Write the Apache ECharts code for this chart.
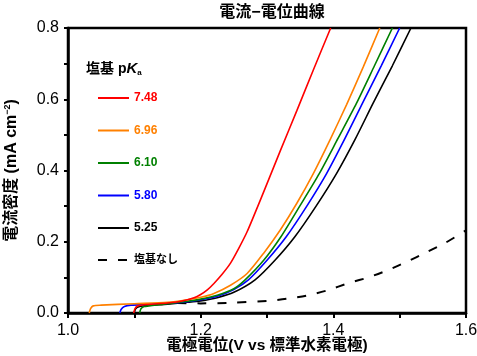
<!DOCTYPE html>
<html><head><meta charset="utf-8">
<script src="https://cdn.jsdelivr.net/npm/echarts@6/dist/echarts.min.js"></script>
<style>html,body{margin:0;padding:0;background:#fff}#c{width:477px;height:356px}</style>
</head><body><div id="c"></div>
<script>
const seriesNames = ['7.48', '6.96', '6.10', '5.80', '5.25', '塩基なし'];
const seriesColors = ['#ff0000', '#ff8000', '#008000', '#0000ff', '#000000', '#000000'];
const xTicks = [1.0, 1.2, 1.4, 1.6];
const yTicks = [0.0, 0.2, 0.4, 0.6, 0.8];

const red = [[1.099,0],[1.101,0.012],[1.105,0.02],[1.12,0.024],[1.15,0.028],[1.17,0.033],[1.19,0.043],[1.2,0.052],[1.21,0.065],[1.22,0.083],[1.232,0.108],[1.245,0.14],[1.257,0.18],[1.27,0.228],[1.295,0.34],[1.32,0.455],[1.345,0.568],[1.37,0.683],[1.396,0.80]];
const orange = [[1.032,0],[1.034,0.012],[1.038,0.02],[1.05,0.022],[1.1,0.026],[1.15,0.03],[1.18,0.037],[1.2,0.044],[1.22,0.055],[1.245,0.078],[1.27,0.111],[1.295,0.168],[1.32,0.233],[1.345,0.308],[1.37,0.392],[1.395,0.486],[1.42,0.585],[1.445,0.69],[1.47,0.80]];
const green = [[1.108,0],[1.11,0.012],[1.115,0.018],[1.13,0.022],[1.15,0.026],[1.18,0.033],[1.2,0.039],[1.225,0.05],[1.25,0.068],[1.267,0.093],[1.295,0.148],[1.321,0.214],[1.35,0.302],[1.379,0.392],[1.407,0.49],[1.435,0.589],[1.462,0.694],[1.489,0.80]];
const blue = [[1.078,0],[1.08,0.01],[1.085,0.018],[1.095,0.022],[1.12,0.024],[1.15,0.027],[1.18,0.032],[1.2,0.037],[1.225,0.047],[1.25,0.066],[1.272,0.093],[1.3,0.148],[1.329,0.214],[1.36,0.30],[1.39,0.392],[1.417,0.488],[1.444,0.589],[1.472,0.693],[1.50,0.80]];
const black = [[1.10,0],[1.102,0.012],[1.108,0.018],[1.12,0.021],[1.15,0.025],[1.18,0.03],[1.2,0.034],[1.225,0.043],[1.25,0.058],[1.282,0.093],[1.312,0.148],[1.342,0.214],[1.374,0.30],[1.405,0.392],[1.433,0.488],[1.46,0.589],[1.489,0.694],[1.517,0.80]];
const noBase = [[1.165,0.028],[1.2,0.027],[1.25,0.029],[1.3,0.034],[1.33,0.04],[1.36,0.049],[1.39,0.063],[1.425,0.085],[1.453,0.1],[1.483,0.121],[1.511,0.144],[1.54,0.17],[1.569,0.197],[1.6,0.232]];

const allData = [red, orange, green, blue, black, noBase];

const latin = 'Liberation Sans, Arial, sans-serif';
const cjk = '"Liberation Sans", "Noto Sans CJK JP", sans-serif';

const chart = echarts.init(document.getElementById('c'));
chart.setOption({
  animation: false,
  backgroundColor: '#fff',
  title: [{
    text: '電流−電位曲線',
    left: 267, top: 0, textAlign: 'center',
    textStyle: {fontFamily: cjk, fontWeight: 'bold', fontSize: 16, color: '#000'}
  }, {
    text: '{b|塩基 p}{i|K}{s|a}',
    left: 81, top: 56,
    textStyle: {
      rich: {
        b: {fontFamily: cjk, fontWeight: 'bold', fontSize: 14, color: '#000'},
        i: {fontFamily: latin, fontWeight: 'bold', fontStyle: 'italic', fontSize: 15, color: '#000'},
        s: {fontFamily: latin, fontWeight: 'bold', fontSize: 8, color: '#000', verticalAlign: 'bottom', padding: [8,0,0,0]}
      }
    }
  }],
  legend: {
    orient: 'vertical',
    left: 97, top: 92, padding: 0,
    itemWidth: 31, itemHeight: 14, itemGap: 20.5,
    itemStyle: {opacity: 0, borderWidth: 0},
    data: seriesNames.map((n, i) => ({
      name: n,
      textStyle: {color: seriesColors[i], fontWeight: 'bold', fontSize: i === 5 ? 11 : 12, fontFamily: i === 5 ? cjk : latin}
    }))
  },
  grid: {left: 68, right: 11, top: 28, bottom: 43, show: true, borderColor: '#000', borderWidth: 2.5, outerBoundsMode: 'none', containLabel: false},
  xAxis: {
    type: 'value', min: 1.0, max: 1.6, interval: 0.2,
    name: '電極電位(V vs 標準水素電極)', nameLocation: 'middle', nameGap: 25, nameMoveOverlap: false,
    nameTextStyle: {fontFamily: cjk, fontWeight: 'bold', fontSize: 15.5, color: '#000'},
    axisLine: {lineStyle: {color: '#000', width: 2.5}},
    axisTick: {length: 5, lineStyle: {color: '#000', width: 2}},
    minorTick: {show: true, splitNumber: 2, length: 5, lineStyle: {color: '#000', width: 2}},
    splitLine: {show: false},
    axisLabel: {margin: 10, fontFamily: latin, fontSize: 16, color: '#000', formatter: v => v.toFixed(1)}
  },
  yAxis: {
    type: 'value', min: 0, max: 0.8, interval: 0.2,
    name: '{t|電流密度 (mA cm}{s|−2}{t|)}', nameLocation: 'middle', nameGap: 48, nameMoveOverlap: false,
    nameTextStyle: {
      rich: {
        t: {fontFamily: cjk, fontWeight: 'bold', fontSize: 16, color: '#000'},
        s: {fontFamily: latin, fontWeight: 'bold', fontSize: 9, color: '#000', verticalAlign: 'top', padding: [0,0,8,0]}
      }
    },
    axisLine: {lineStyle: {color: '#000', width: 2.5}},
    axisTick: {length: 4, lineStyle: {color: '#000', width: 2}},
    minorTick: {show: true, splitNumber: 2, length: 4, lineStyle: {color: '#000', width: 2}},
    splitLine: {show: false},
    axisLabel: {margin: 9, fontFamily: latin, fontSize: 16, color: '#000', formatter: v => v.toFixed(1)}
  },
  series: seriesNames.map((n, i) => ({
    name: n, type: 'line', data: allData[i],
    symbol: 'none', smooth: 0.25, clip: true,
    z: 10 - i,
    lineStyle: {color: seriesColors[i], width: i === 5 ? 2 : 1.6, type: i === 5 ? [9, 11] : 'solid'},
    itemStyle: {color: seriesColors[i]}
  }))
});
</script></body></html>
